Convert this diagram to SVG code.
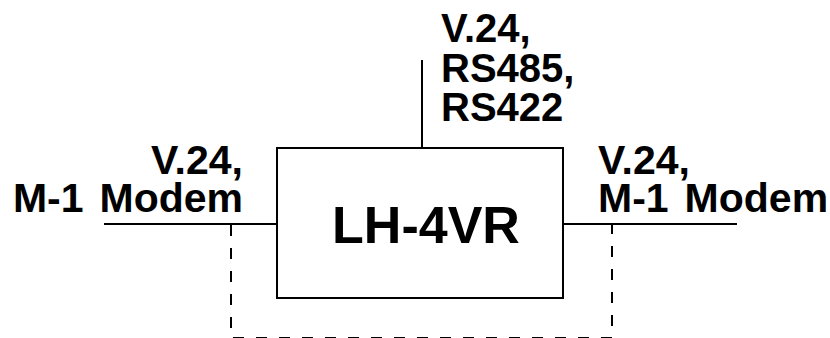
<svg xmlns="http://www.w3.org/2000/svg" width="830" height="338" viewBox="0 0 830 338">
<style>
.t{font-family:"Liberation Sans",Arial,sans-serif;font-weight:bold;font-size:41px;fill:#000}
.top{font-size:40px}
.big{font-size:52px}
.ln{stroke:#000;stroke-width:2;fill:none}
.ds{stroke:#000;stroke-width:2;fill:none;stroke-dasharray:11 12}
</style>
<rect width="830" height="338" fill="#fff"/>
<g id="connectors">
<line class="ln" x1="104" y1="224" x2="277" y2="224"/>
<line class="ln" x1="563" y1="224" x2="737" y2="224"/>
<line class="ln" x1="422" y1="60" x2="422" y2="148"/>
<path class="ds" d="M231 225 V338 H612 V225"/>
</g>
<g id="lh4vr">
<rect class="ln" x="277" y="148" width="286" height="150"/>
<text class="t big" x="426" y="243" text-anchor="middle">LH-4VR</text>
</g>
<g id="left-label">
<text class="t" x="243" y="174" text-anchor="end">V.24,</text>
<text class="t" x="243" y="212" text-anchor="end">M-1<tspan dx="16">Modem</tspan></text>
</g>
<g id="right-label">
<text class="t" x="598" y="174">V.24,</text>
<text class="t" x="598" y="212">M-1<tspan dx="16">Modem</tspan></text>
</g>
<g id="top-label">
<text class="t top" x="441" y="42">V.24,</text>
<text class="t top" x="441" y="82">RS485,</text>
<text class="t top" x="441" y="121">RS422</text>
</g>
</svg>
